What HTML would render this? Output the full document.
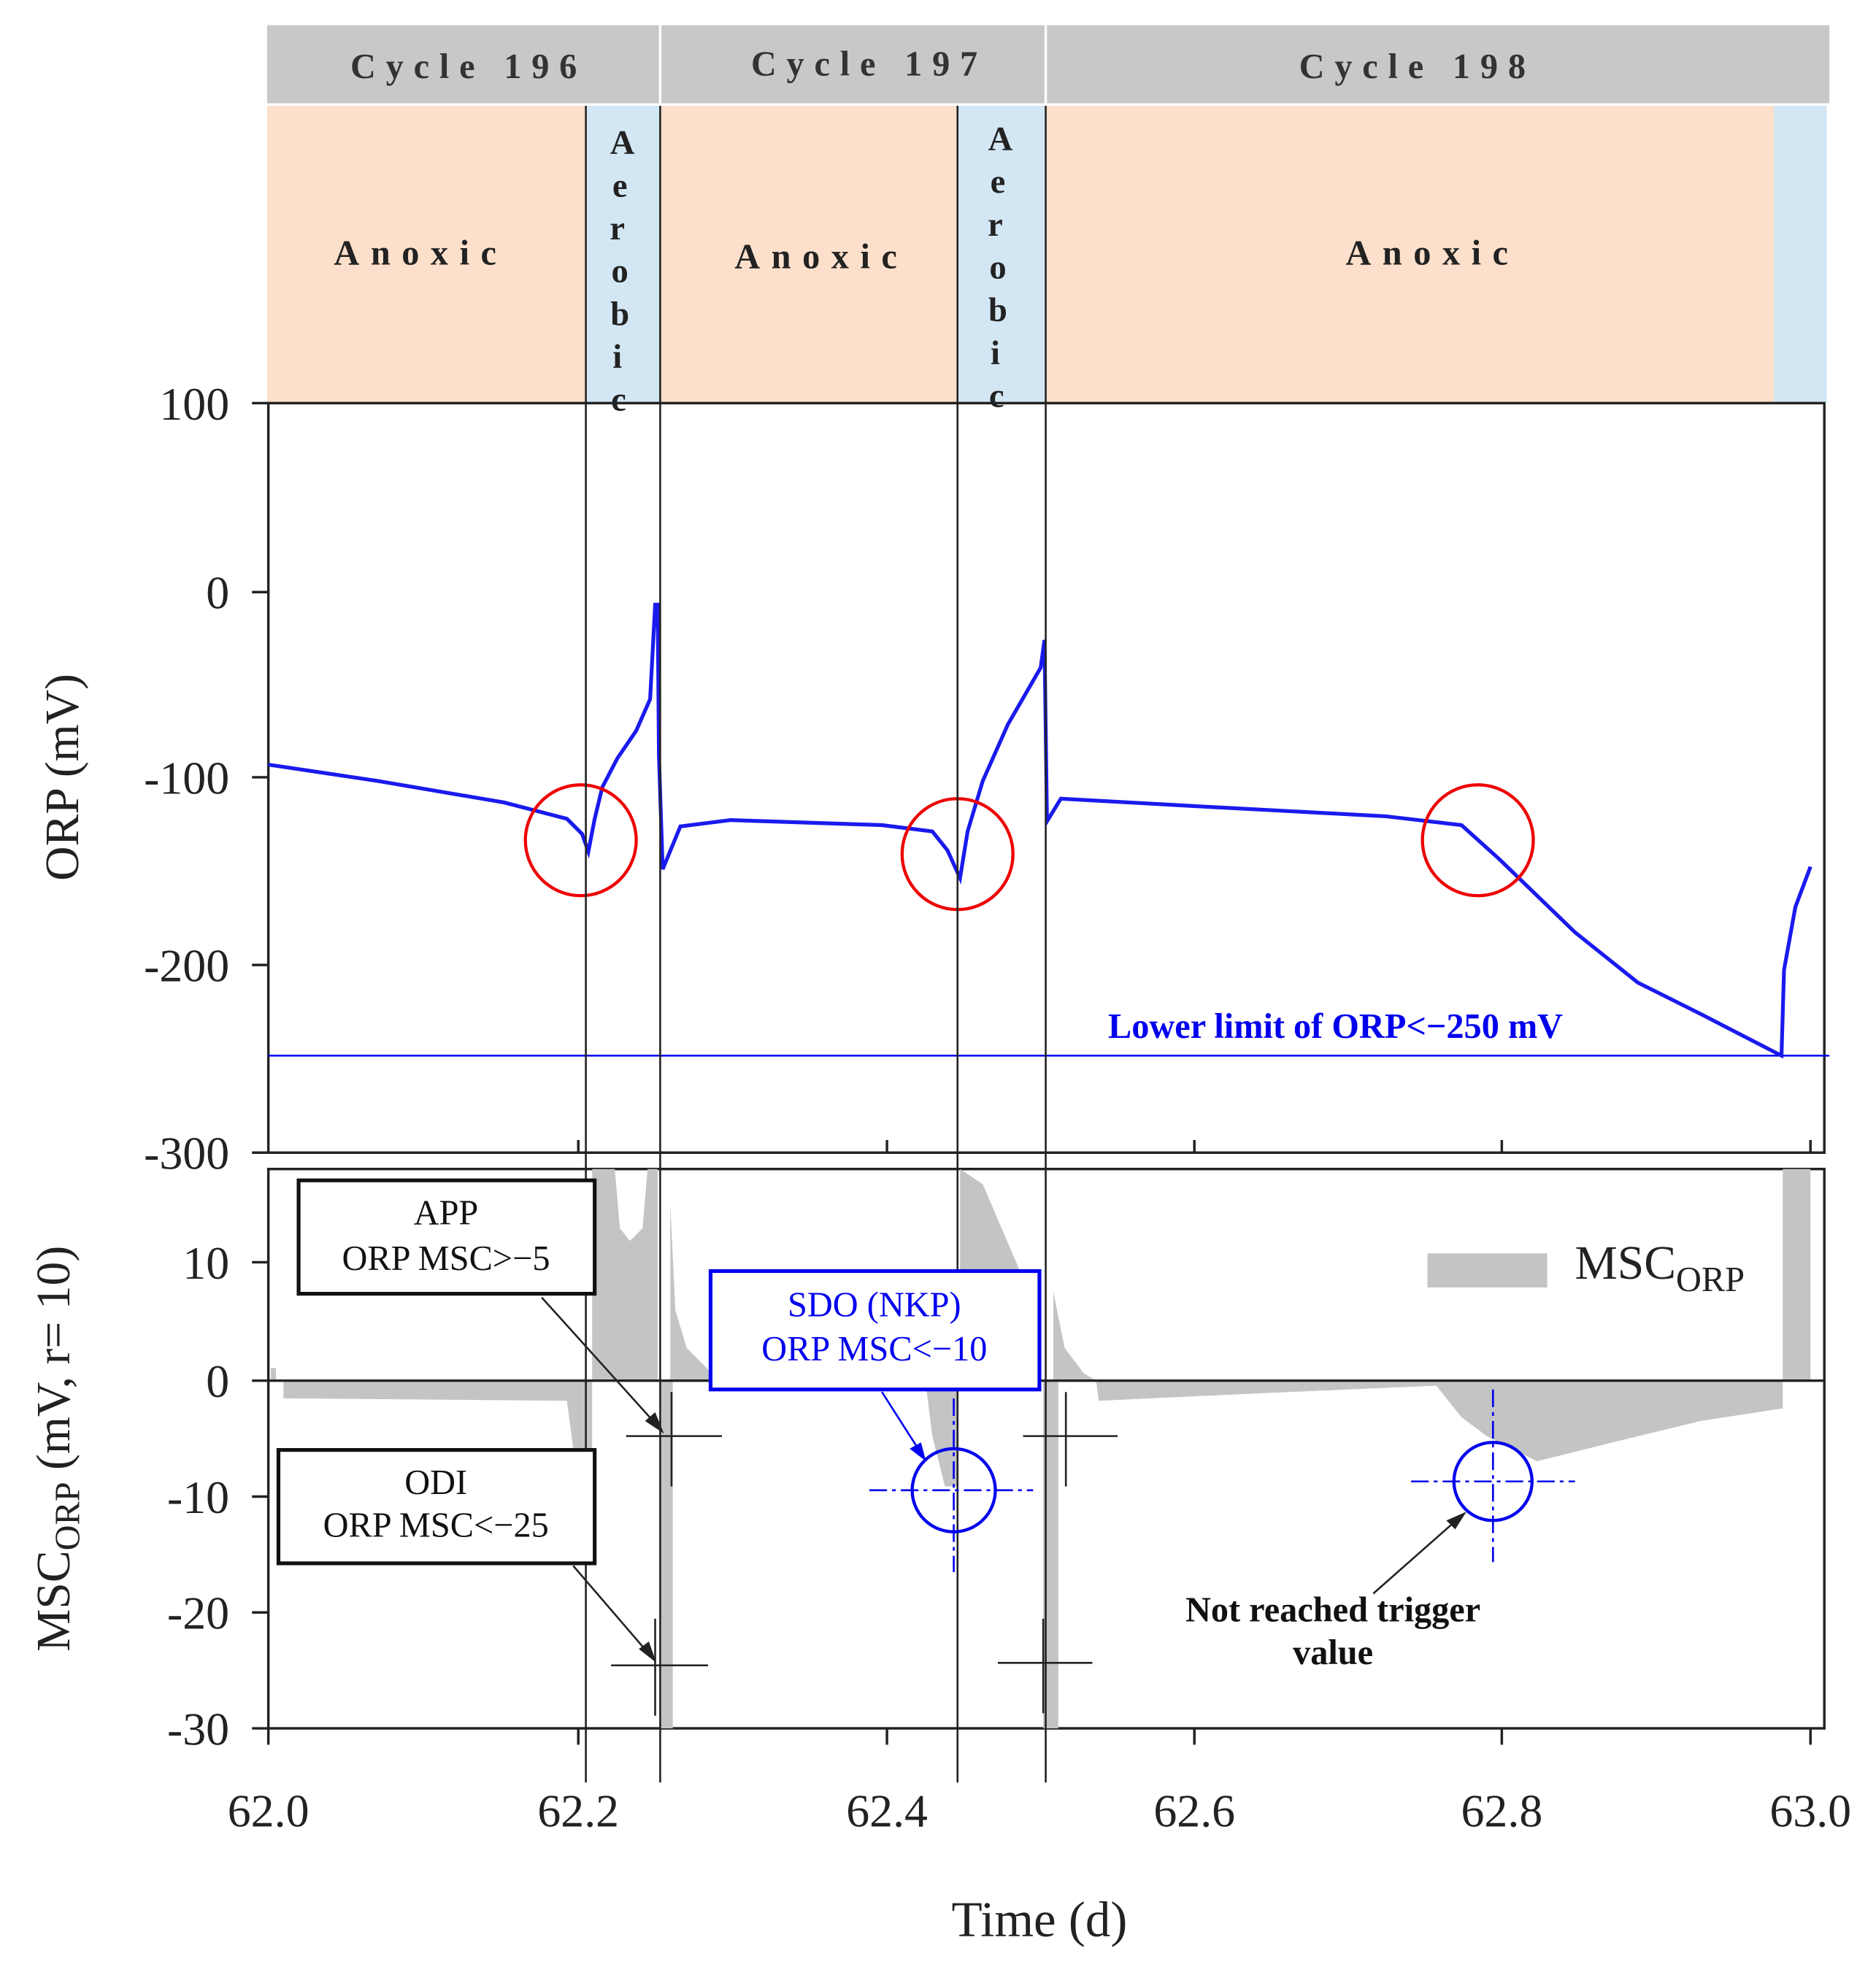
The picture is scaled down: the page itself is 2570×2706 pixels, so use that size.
<!DOCTYPE html>
<html><head><meta charset="utf-8"><style>html,body{margin:0;padding:0;background:#fff}svg{display:block}</style></head>
<body>
<svg width="2570" height="2706" viewBox="0 0 1489 1567.8" xmlns="http://www.w3.org/2000/svg" font-family="Liberation Serif, serif">
<!-- header -->
<rect x="212" y="20" width="1240" height="62" fill="#c8c8c8"/>
<rect x="523" y="20" width="2" height="62" fill="#fff"/>
<rect x="829" y="20" width="2" height="62" fill="#fff"/>
<g font-size="28" font-weight="bold" fill="#333" text-anchor="middle" letter-spacing="8">
<text x="372" y="62">Cycle  196</text>
<text x="690" y="60">Cycle 197</text>
<text x="1125" y="62">Cycle 198</text>
</g>
<rect x="212" y="84" width="253" height="236" fill="#fde0cb"/>
<rect x="465" y="84" width="59" height="236" fill="#d3e6f4"/>
<rect x="524" y="84" width="236" height="236" fill="#fde0cb"/>
<rect x="760" y="84" width="70" height="236" fill="#d3e6f4"/>
<rect x="830" y="84" width="578" height="236" fill="#fde0cb"/>
<rect x="1408" y="84" width="42" height="236" fill="#d3e6f4"/>
<g font-size="28" font-weight="bold" fill="#222" text-anchor="middle" letter-spacing="9">
<text x="334" y="210">Anoxic</text>
<text x="652" y="213">Anoxic</text>
<text x="1137" y="210">Anoxic</text>
</g>
<g font-size="27" font-weight="bold" fill="#222" text-anchor="middle">
<text x="494" y="122">A</text><text x="492" y="156">e</text><text x="490" y="190">r</text><text x="492" y="224">o</text><text x="492" y="258">b</text><text x="490" y="292">i</text><text x="491" y="326">c</text>
<text x="794" y="119">A</text><text x="792" y="153">e</text><text x="790" y="187">r</text><text x="792" y="221">o</text><text x="792" y="255">b</text><text x="790" y="289">i</text><text x="791" y="323">c</text>
</g>
<!-- upper plot frame -->
<rect x="213" y="320" width="1235" height="595" fill="none" stroke="#222" stroke-width="2"/>
<g stroke="#222" stroke-width="2">
<line x1="200" y1="320" x2="213" y2="320"/><line x1="200" y1="470" x2="213" y2="470"/><line x1="200" y1="617" x2="213" y2="617"/><line x1="200" y1="766" x2="213" y2="766"/><line x1="200" y1="915" x2="213" y2="915"/>
<line x1="459" y1="905" x2="459" y2="915"/><line x1="704" y1="905" x2="704" y2="915"/><line x1="948" y1="905" x2="948" y2="915"/><line x1="1192" y1="905" x2="1192" y2="915"/><line x1="1437" y1="905" x2="1437" y2="915"/>
</g>
<g font-size="37" fill="#222" text-anchor="end">
<text x="182" y="333">100</text><text x="182" y="483">0</text><text x="182" y="630">-100</text><text x="182" y="779">-200</text><text x="182" y="928">-300</text>
</g>
<text transform="translate(62,617) rotate(-90)" font-size="38" text-anchor="middle" fill="#222">ORP (mV)</text>
<line x1="213" y1="838" x2="1452" y2="838" stroke="#0000ee" stroke-width="1.5"/>
<text x="1060" y="824" font-size="28" font-weight="bold" fill="#0000ee" text-anchor="middle">Lower limit of ORP&lt;−250 mV</text>
<polyline fill="none" stroke="#1a1aee" stroke-width="3" points="213,607 300,620 400,637 450,650 462,662 467,676 472,650 478,625 490,602 505,580 516,555 520,480 522,480 523,600 526,690 540,656 580,651 700,655 740,660 752,675 762,697 768,660 780,620 800,575 826,530 829,508 831,652 842,634 950,640 1100,648 1160,655 1190,682 1250,740 1300,780 1350,805 1414,838 1416,770 1425,720 1437,688"/>
<g fill="none" stroke="#ee0000" stroke-width="2.5">
<circle cx="461" cy="667" r="44"/><circle cx="760" cy="678" r="44"/><circle cx="1173" cy="667" r="44"/>
</g>
<!-- lower plot -->
<rect x="213" y="928" width="1235" height="444" fill="none" stroke="#222" stroke-width="2"/>
<g fill="#c4c4c4">
<path d="M470,1096 L470,928 L488,928 L492,975 L500,985 L510,975 L514,928 L522,928 L522,1096Z"/>
<path d="M532,1096 L532,955 L536,1040 L545,1070 L560,1085 L570,1096Z"/>
<path d="M762,1096 L762,928 L780,940 L795,975 L810,1010 L820,1040 L826,1060 L826,1096Z"/>
<path d="M836,1096 L836,1025 L845,1070 L860,1090 L870,1096Z"/>
<rect x="1415" y="928" width="22" height="168"/>
<rect x="215" y="1086" width="4" height="10"/>
<path d="M225,1096 L225,1110 L450,1112 L455,1150 L470,1150 L470,1096Z"/>
<rect x="524" y="1096" width="10" height="276"/>
<path d="M600,1096 L735,1100 L740,1140 L750,1180 L760,1180 L760,1096Z"/>
<rect x="828" y="1096" width="12" height="276"/>
<path d="M870,1096 L872,1112 L1000,1106 L1140,1100 L1160,1125 L1180,1140 L1220,1160 L1280,1145 L1350,1128 L1415,1118 L1415,1096Z"/>
</g>
<line x1="213" y1="1096" x2="1448" y2="1096" stroke="#222" stroke-width="2"/>
<g stroke="#222" stroke-width="2">
<line x1="200" y1="1002" x2="213" y2="1002"/><line x1="200" y1="1096" x2="213" y2="1096"/><line x1="200" y1="1188" x2="213" y2="1188"/><line x1="200" y1="1280" x2="213" y2="1280"/><line x1="200" y1="1372" x2="213" y2="1372"/>
<line x1="213" y1="1372" x2="213" y2="1385"/><line x1="459" y1="1372" x2="459" y2="1385"/><line x1="704" y1="1372" x2="704" y2="1385"/><line x1="948" y1="1372" x2="948" y2="1385"/><line x1="1192" y1="1372" x2="1192" y2="1385"/><line x1="1437" y1="1372" x2="1437" y2="1385"/>
</g>
<g font-size="37" fill="#222" text-anchor="end">
<text x="182" y="1015">10</text><text x="182" y="1109">0</text><text x="182" y="1201">-10</text><text x="182" y="1293">-20</text><text x="182" y="1385">-30</text>
</g>
<g font-size="37" fill="#222" text-anchor="middle">
<text x="213" y="1450">62.0</text><text x="459" y="1450">62.2</text><text x="704" y="1450">62.4</text><text x="948" y="1450">62.6</text><text x="1192" y="1450">62.8</text><text x="1437" y="1450">63.0</text>
</g>
<text x="825" y="1537" font-size="40" text-anchor="middle" fill="#222">Time (d)</text>
<text transform="translate(55,1150) rotate(-90)" font-size="38" text-anchor="middle" fill="#222">MSC<tspan font-size="28" dy="8">ORP</tspan><tspan dy="-8"> (mV, r= 10)</tspan></text>
<rect x="1133" y="995" width="95" height="27" fill="#c4c4c4"/>
<text x="1250" y="1015" font-size="38" fill="#222">MSC<tspan font-size="28" dy="10">ORP</tspan></text>
<!-- vertical phase lines -->
<g stroke="#222" stroke-width="1.5">
<line x1="465" y1="84" x2="465" y2="1415"/><line x1="524" y1="84" x2="524" y2="1415"/><line x1="760" y1="84" x2="760" y2="1415"/><line x1="830" y1="84" x2="830" y2="1415"/>
</g>
<!-- boxes -->
<rect x="237" y="937" width="235" height="90" fill="#fff" stroke="#111" stroke-width="3"/>
<text x="354" y="972" font-size="28" text-anchor="middle" fill="#111">APP</text>
<text x="354" y="1008" font-size="28" text-anchor="middle" fill="#111">ORP MSC&gt;−5</text>
<rect x="221" y="1151" width="251" height="90" fill="#fff" stroke="#111" stroke-width="3"/>
<text x="346" y="1186" font-size="28" text-anchor="middle" fill="#111">ODI</text>
<text x="346" y="1220" font-size="28" text-anchor="middle" fill="#111">ORP MSC&lt;−25</text>
<rect x="564" y="1009" width="261" height="94" fill="#fff" stroke="#0000ee" stroke-width="3"/>
<text x="694" y="1045" font-size="28" text-anchor="middle" fill="#0000ee">SDO (NKP)</text>
<text x="694" y="1080" font-size="28" text-anchor="middle" fill="#0000ee">ORP MSC&lt;−10</text>
<!-- crosses -->
<g stroke="#222" stroke-width="1.5">
<line x1="497" y1="1140" x2="573" y2="1140"/><line x1="533" y1="1105" x2="533" y2="1180"/>
<line x1="485" y1="1322" x2="562" y2="1322"/><line x1="520" y1="1285" x2="520" y2="1362"/>
<line x1="812" y1="1140" x2="887" y2="1140"/><line x1="846" y1="1105" x2="846" y2="1180"/>
<line x1="792" y1="1320" x2="867" y2="1320"/><line x1="828" y1="1285" x2="828" y2="1360"/>
<line x1="430" y1="1030" x2="522" y2="1132"/><line x1="455" y1="1243" x2="516" y2="1314"/>
<line x1="1090" y1="1265" x2="1158" y2="1205"/>
</g>
<polygon points="527,1138 512,1128 520,1121" fill="#222"/>
<polygon points="521,1320 507,1309 515,1303" fill="#222"/>
<polygon points="1164,1200 1148,1207 1155,1214" fill="#222"/>
<line x1="700" y1="1105" x2="730" y2="1152" stroke="#0000ee" stroke-width="1.5"/>
<polygon points="735,1160 722,1150 731,1145" fill="#0000ee"/>
<g stroke="#0000ee" stroke-width="1.5" fill="none" stroke-dasharray="14,4,3,4">
<line x1="690" y1="1183" x2="820" y2="1183"/><line x1="757" y1="1110" x2="757" y2="1248"/>
<line x1="1120" y1="1176" x2="1250" y2="1176"/><line x1="1185" y1="1103" x2="1185" y2="1240"/>
</g>
<circle cx="757" cy="1183" r="33" fill="none" stroke="#0000ee" stroke-width="2.5"/>
<circle cx="1185" cy="1176" r="31" fill="none" stroke="#0000ee" stroke-width="2.5"/>
<text x="1058" y="1287" font-size="28" font-weight="bold" text-anchor="middle" fill="#111">Not reached trigger</text>
<text x="1058" y="1321" font-size="28" font-weight="bold" text-anchor="middle" fill="#111">value</text>
</svg>
</body></html>
